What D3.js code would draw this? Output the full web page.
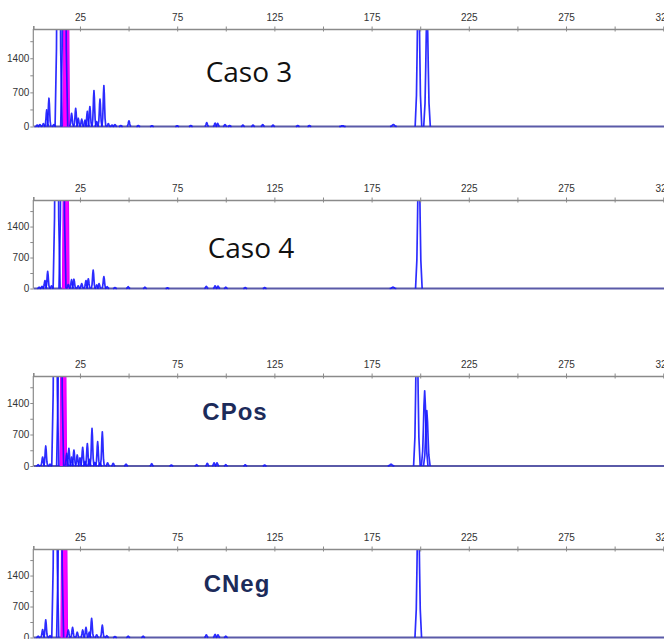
<!DOCTYPE html>
<html><head><meta charset="utf-8">
<script src="https://cdn.jsdelivr.net/npm/d3@7"></script>
<style>html,body{margin:0;padding:0;background:#fff;overflow:hidden}</style>
</head><body>
<svg id="c" width="664" height="639"></svg>
<script>
// ---------- data ----------
const panelTitles = ["Caso 3", "Caso 4", "CPos", "CNeg"];
const xTickLabels = [25, 75, 125, 175, 225, 275, 325];
const xMinorTicks = [50, 100, 150, 200, 250, 300];
const yTickLabels = [0, 700, 1400];
const yMinorTicks = [350, 1050, 1750];

// blue-dye peaks (size in bp, height in RFU); off-scale peaks estimated
const caso3Sizes   = [3.0, 4.4, 6.2, 7.9, 9.05, 11.6, 14.0, 16.9, 20.7, 22.8, 24.1, 25.9, 27.6, 28.8, 30.1, 32.2, 33.6, 35.3, 37.3, 39.6, 41.5, 43.0, 46.0, 50.2, 55, 62, 75, 82, 90.2, 94.5, 95.8, 99.6, 102, 108.8, 114, 119, 124.3, 137, 143, 160, 186.2, 199.1, 203.5];
const caso3Heights = [30, 40, 60, 340, 580, 40, 8000, 8000, 270, 370, 170, 150, 130, 310, 410, 735, 100, 560, 840, 60, 30, 40, 20, 115, 20, 15, 15, 20, 80, 70, 65, 40, 20, 30, 30, 40, 30, 20, 20, 15, 40, 3200, 2400];
const caso3MagentaSizes = [17.9];
const caso3MagentaHeights = [20000];

const caso4Sizes   = [4.0, 5.5, 7.0, 8.4, 10.4, 13.0, 16.0, 19.0, 20.7, 21.9, 24.1, 25.9, 28.1, 29.3, 31.8, 33.6, 34.8, 37.3, 39.0, 43.0, 49.8, 58.4, 70, 90, 94.5, 96, 100, 110, 120, 186, 199.3];
const caso4Heights = [30, 50, 180, 385, 60, 8000, 8000, 90, 200, 210, 60, 110, 180, 220, 415, 80, 110, 270, 40, 20, 40, 30, 15, 50, 60, 55, 30, 20, 20, 30, 3200];
const caso4MagentaSizes = [17.7];
const caso4MagentaHeights = [20000];

const cposSizes   = [3.5, 5.8, 7.4, 9.6, 12.3, 14.8, 18.2, 19.3, 20.7, 21.9, 23.6, 25.0, 26.4, 27.6, 28.8, 29.8, 31.2, 32.7, 34.1, 35.3, 36.5, 39.2, 42.1, 48.7, 61.9, 72, 85, 90.5, 94, 95.5, 100, 110, 120, 185, 198.3, 202.3, 203.4];
const cposHeights = [30, 200, 445, 40, 8000, 8000, 280, 390, 200, 355, 245, 180, 415, 100, 500, 150, 835, 80, 540, 60, 760, 70, 60, 40, 50, 20, 30, 60, 70, 70, 30, 25, 20, 40, 3200, 1670, 1230];
const cposMagentaSizes = [16.4];
const cposMagentaHeights = [20000];

const cnegSizes   = [3.5, 5.8, 7.4, 9.6, 12.3, 14.8, 19.0, 21.2, 23.6, 26.4, 28.1, 29.8, 31.0, 33.6, 36.5, 38.8, 43, 49.8, 57.5, 90, 94.5, 96, 100, 199.0];
const cnegHeights = [30, 180, 400, 40, 8000, 8000, 170, 230, 120, 170, 230, 120, 435, 60, 280, 40, 20, 30, 30, 60, 70, 60, 30, 3200];
const cnegMagentaSizes = [16.9];
const cnegMagentaHeights = [20000];

// ---------- layout ----------
const panels = [
  {title: panelTitles[0], sizes: caso3Sizes, heights: caso3Heights, mSizes: caso3MagentaSizes, mHeights: caso3MagentaHeights,
   top: 29, bottom: 126.5, tx: 249, ty: 82, bold: false},
  {title: panelTitles[1], sizes: caso4Sizes, heights: caso4Heights, mSizes: caso4MagentaSizes, mHeights: caso4MagentaHeights,
   top: 200, bottom: 288.5, tx: 251, ty: 258, bold: false},
  {title: panelTitles[2], sizes: cposSizes, heights: cposHeights, mSizes: cposMagentaSizes, mHeights: cposMagentaHeights,
   top: 376, bottom: 466, tx: 235, ty: 420, bold: true},
  {title: panelTitles[3], sizes: cnegSizes, heights: cnegHeights, mSizes: cnegMagentaSizes, mHeights: cnegMagentaHeights,
   top: 549, bottom: 637.5, tx: 237, ty: 592, bold: true}
];

const svg = d3.select("#c");
const x = d3.scaleLinear().domain([1, 340]).range([33.3, 692.4]);
const axisColor = "#8a8a8a";

// bell-shaped outline through a few points
function peakPoints(p, h, w) {
  return [[p - w, 0], [p - w * 0.6, h * 0.2], [p - w * 0.39, h * 0.5], [p - w * 0.22, h * 0.8], [p, h],
          [p + w * 0.22, h * 0.8], [p + w * 0.39, h * 0.5], [p + w * 0.6, h * 0.2], [p + w, 0]];
}

panels.forEach((pn, i) => {
  const y = d3.scaleLinear().domain([0, 2000]).range([pn.bottom, pn.top]);
  const g = svg.append("g");
  const clipId = "clip" + i;
  svg.append("defs").append("clipPath").attr("id", clipId)
    .append("rect").attr("x", x(1)).attr("y", pn.top).attr("width", 700).attr("height", pn.bottom - pn.top + 2);

  const line = d3.line().x(d => x(d[0])).y(d => y(d[1]));
  const plot = g.append("g").attr("clip-path", `url(#${clipId})`);

  // baseline
  plot.append("path").attr("d", line([[1, 0], [340, 0]]))
    .attr("stroke", "#5a5aa8").attr("stroke-width", 2).attr("fill", "none");

  // magenta peaks (filled)
  pn.mSizes.forEach((s, k) => {
    plot.append("path").attr("d", line(peakPoints(s, pn.mHeights[k], 1.7)))
      .attr("fill", "#ff00ff").attr("stroke", "#e000ff").attr("stroke-width", 1.2);
  });

  // blue peaks
  pn.sizes.forEach((s, k) => {
    const h = pn.heights[k];
    const w = s > 150 ? 1.7 : (h > 2000 ? 1.8 : 1.0);
    plot.append("path").attr("d", line(peakPoints(s, h, w)))
      .attr("fill", "none").attr("stroke", "#1515ff").attr("stroke-width", 1.7)
      .attr("stroke-opacity", 0.9).attr("stroke-linejoin", "round");
  });

  // top axis
  const xAxis = d3.axisTop(x).tickValues(xTickLabels).tickSize(3).tickFormat(d3.format("d"));
  const xa = g.append("g").attr("transform", `translate(0,${pn.top})`).call(xAxis);
  xa.select(".domain").attr("stroke", axisColor).attr("stroke-width", 1.6);
  xa.selectAll(".tick line").attr("stroke", axisColor).attr("y2", -2.5).attr("y1", 2.5);
  xa.selectAll(".tick text").attr("font-family", "Liberation Sans, Arial, sans-serif").attr("font-size", 10)
    .attr("fill", "#333").attr("dy", "-0.2em");
  const xm = g.append("g").attr("transform", `translate(0,${pn.top})`)
    .call(d3.axisTop(x).tickValues(xMinorTicks).tickSize(3).tickFormat(""));
  xm.select(".domain").remove();
  xm.selectAll(".tick line").attr("stroke", axisColor).attr("y1", 2.5).attr("y2", -2.5);

  // left axis
  const yAxis = d3.axisLeft(y).tickValues(yTickLabels).tickSize(3).tickFormat(d3.format("d"));
  const ya = g.append("g").attr("transform", `translate(${x(1)},0)`).call(yAxis);
  ya.select(".domain").attr("stroke", axisColor).attr("stroke-width", 1.2)
    .attr("d", `M0,${pn.top}V${pn.bottom}`);
  ya.selectAll(".tick line").attr("stroke", axisColor);
  ya.selectAll(".tick text").attr("font-family", "Liberation Sans, Arial, sans-serif").attr("font-size", 10)
    .attr("fill", "#333").attr("x", -4);
  const ym = g.append("g").attr("transform", `translate(${x(1)},0)`)
    .call(d3.axisLeft(y).tickValues(yMinorTicks).tickSize(3).tickFormat(""));
  ym.select(".domain").remove();
  ym.selectAll(".tick line").attr("stroke", axisColor);

  // title
  const t = g.append("text").attr("x", pn.tx).attr("y", pn.ty).attr("text-anchor", "middle").text(pn.title);
  if (pn.bold) {
    t.attr("font-family", "Liberation Sans, Arial, sans-serif").attr("font-weight", "bold")
      .attr("font-size", 24).attr("letter-spacing", 1).attr("fill", "#1c2b5a");
  } else {
    t.attr("font-family", "Open Sans, sans-serif").attr("font-size", 28).attr("fill", "#111");
  }
});
</script>
</body></html>
